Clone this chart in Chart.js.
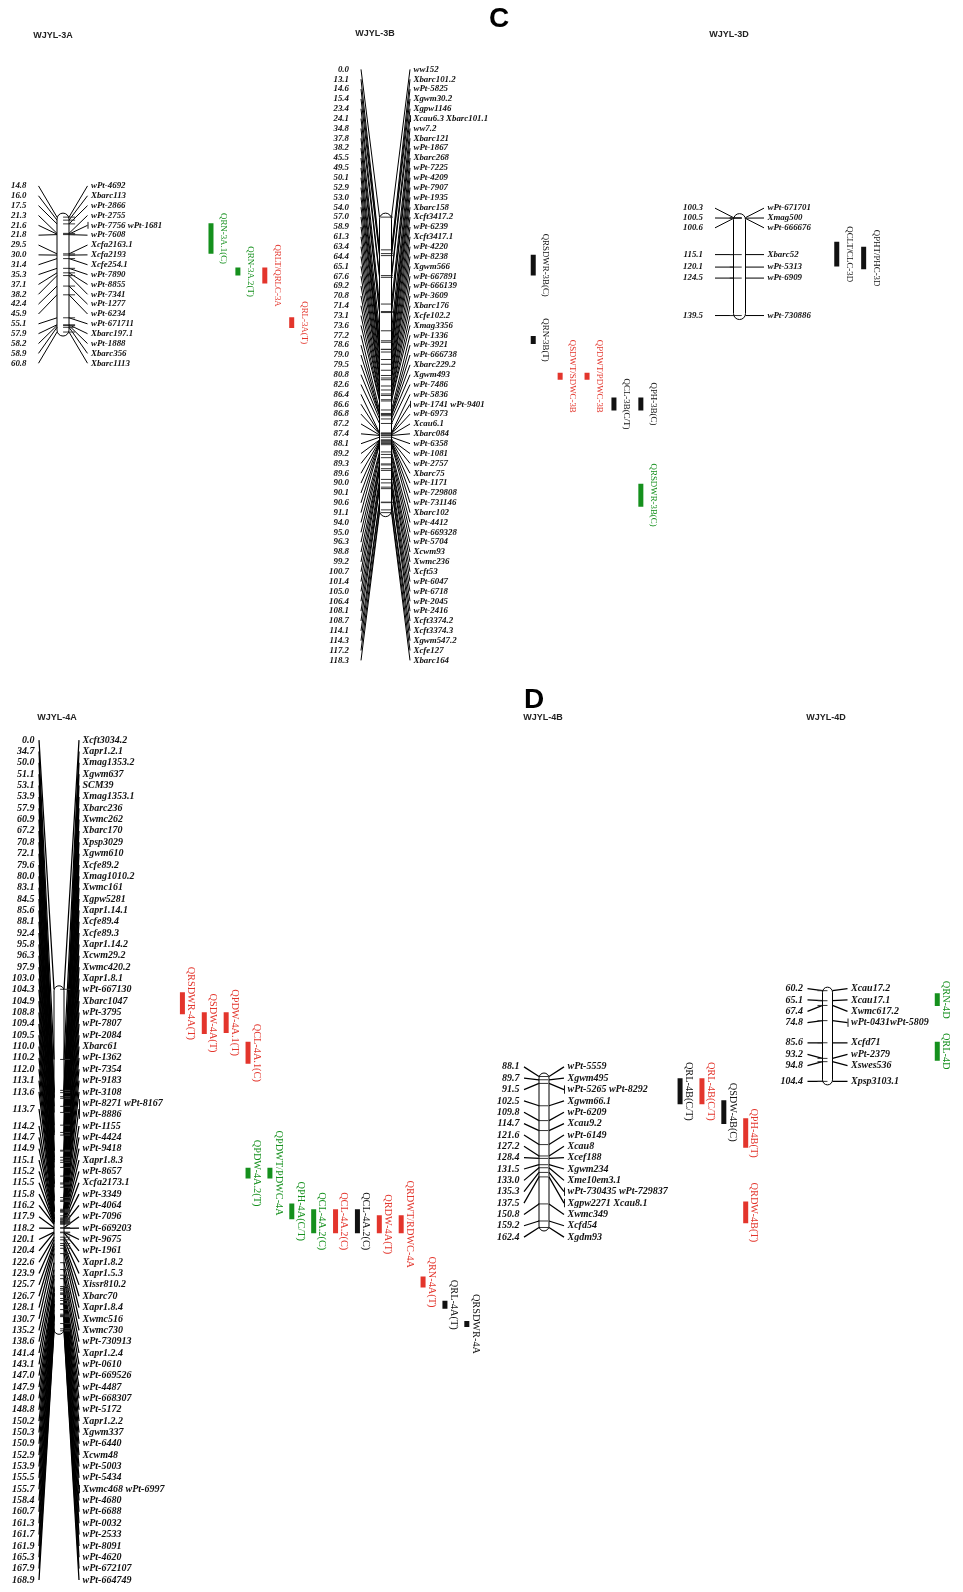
<!DOCTYPE html>
<html>
<head>
<meta charset="utf-8">
<script src="https://cdn.jsdelivr.net/npm/chart.js@4.4.0/dist/chart.umd.min.js"></script>
<style>
  html, body { margin: 0; padding: 0; background: #fff; }
  #wrap { width: 963px; height: 1592px; }
</style>
</head>
<body>
<div id="wrap"><canvas id="map" width="963" height="1592"></canvas></div>
<script>
// ---- marker positions (cM) and names ----
var pos3A = [14.8,16.0,17.5,21.3,21.6,21.8,29.5,30.0,31.4,35.3,37.1,38.2,42.4,45.9,55.1,57.9,58.2,58.9,60.8];
var mk3A = ['wPt-4692','Xbarc113','wPt-2866','wPt-2755','wPt-7756 wPt-1681','wPt-7608','Xcfa2163.1','Xcfa2193','Xcfe254.1','wPt-7890','wPt-8855','wPt-7341','wPt-1277','wPt-6234','wPt-671711','Xbarc197.1','wPt-1888','Xbarc356','Xbarc1113'];

var pos3B = [0.0,13.1,14.6,15.4,23.4,24.1,34.8,37.8,38.2,45.5,49.5,50.1,52.9,53.0,54.0,57.0,58.9,61.3,63.4,64.4,65.1,67.6,69.2,70.8,71.4,73.1,73.6,77.2,78.6,79.0,79.5,80.8,82.6,86.4,86.6,86.8,87.2,87.4,88.1,89.2,89.3,89.6,90.0,90.1,90.6,91.1,94.0,95.0,96.3,98.8,99.2,100.7,101.4,105.0,106.4,108.1,108.7,114.1,114.3,117.2,118.3];
var mk3B = ['ww152','Xbarc101.2','wPt-5825','Xgwm30.2','Xgpw1146','Xcau6.3 Xbarc101.1','ww7.2','Xbarc121','wPt-1867','Xbarc268','wPt-7225','wPt-4209','wPt-7907','wPt-1935','Xbarc158','Xcft3417.2','wPt-6239','Xcft3417.1','wPt-4220','wPt-8238','Xgwm566','wPt-667891','wPt-666139','wPt-3609','Xbarc176','Xcfe102.2','Xmag3356','wPt-1336','wPt-3921','wPt-666738','Xbarc229.2','Xgwm493','wPt-7486','wPt-5836','wPt-1741 wPt-9401','wPt-6973','Xcau6.1','Xbarc084','wPt-6358','wPt-1081','wPt-2757','Xbarc75','wPt-1171','wPt-729808','wPt-731146','Xbarc102','wPt-4412','wPt-669328','wPt-5704','Xcwm93','Xwmc236','Xcft53','wPt-6047','wPt-6718','wPt-2045','wPt-2416','Xcft3374.2','Xcft3374.3','Xgwm547.2','Xcfe127','Xbarc164'];

var pos3D = [100.3,100.5,100.6,115.1,120.1,124.5,139.5];
var mk3D = ['wPt-671701','Xmag500','wPt-666676','Xbarc52','wPt-5313','wPt-6909','wPt-730886'];

var pos4A = [0.0,34.7,50.0,51.1,53.1,53.9,57.9,60.9,67.2,70.8,72.1,79.6,80.0,83.1,84.5,85.6,88.1,92.4,95.8,96.3,97.9,103.0,104.3,104.9,108.8,109.4,109.5,110.0,110.2,112.0,113.1,113.6,113.7,114.2,114.7,114.9,115.1,115.2,115.5,115.8,116.2,117.9,118.2,120.1,120.4,122.6,123.9,125.7,126.7,128.1,130.7,135.2,138.6,141.4,143.1,147.0,147.9,148.0,148.8,150.2,150.3,150.9,152.9,153.9,155.5,155.7,158.4,160.7,161.3,161.7,161.9,165.3,167.9,168.9];
var mk4A = ['Xcft3034.2','Xapr1.2.1','Xmag1353.2','Xgwm637','SCM39','Xmag1353.1','Xbarc236','Xwmc262','Xbarc170','Xpsp3029','Xgwm610','Xcfe89.2','Xmag1010.2','Xwmc161','Xgpw5281','Xapr1.14.1','Xcfe89.4','Xcfe89.3','Xapr1.14.2','Xcwm29.2','Xwmc420.2','Xapr1.8.1','wPt-667130','Xbarc1047','wPt-3795','wPt-7807','wPt-2084','Xbarc61','wPt-1362','wPt-7354','wPt-9183','wPt-3108','wPt-8271 wPt-8167\nwPt-8886','wPt-1155','wPt-4424','wPt-9418','Xapr1.8.3','wPt-8657','Xcfa2173.1','wPt-3349','wPt-4064','wPt-7096','wPt-669203','wPt-9675','wPt-1961','Xapr1.8.2','Xapr1.5.3','Xissr810.2','Xbarc70','Xapr1.8.4','Xwmc516','Xwmc730','wPt-730913','Xapr1.2.4','wPt-0610','wPt-669526','wPt-4487','wPt-668307','wPt-5172','Xapr1.2.2','Xgwm337','wPt-6440','Xcwm48','wPt-5003','wPt-5434','Xwmc468 wPt-6997','wPt-4680','wPt-6688','wPt-0032','wPt-2533','wPt-8091','wPt-4620','wPt-672107','wPt-664749'];

var pos4B = [88.1,89.7,91.5,102.5,109.8,114.7,121.6,127.2,128.4,131.5,133.0,135.3,137.5,150.8,159.2,162.4];
var mk4B = ['wPt-5559','Xgwm495','wPt-5265 wPt-8292','Xgwm66.1','wPt-6209','Xcau9.2','wPt-6149','Xcau8','Xcef188','Xgwm234','Xme10em3.1','wPt-730435 wPt-729837','Xgpw2271 Xcau8.1','Xwmc349','Xcfd54','Xgdm93'];

var pos4D = [60.2,65.1,67.4,74.8,85.6,93.2,94.8,104.4];
var mk4D = ['Xcau17.2','Xcau17.1','Xwmc617.2','wPt-0431wPt-5809','Xcfd71','wPt-2379','Xswes536','Xpsp3103.1'];

// ---- QTL intervals (cM) ----
var qtl3A = ['QRN-3A.1(C)','QRN-3A.2(T)','QRLT/QRLC-3A','QRL-3A(T)'];
var qtl3AFrom = [17.2,35.0,35.0,54.9];
var qtl3ATo = [29.5,38.2,41.4,59.2];

var qtl3B = ['QRSDWR-3B(C)','QRN-3B(T)','QSDWT/SDWC-3B','QPDWT/PDWC-3B','QCL-3B(C/T)','QPH-3B(C)','QRSDWR-3B(C)'];
var qtl3BFrom = [15.1,47.6,62.3,62.3,72.2,72.2,106.7];
var qtl3BTo = [23.4,50.8,65.1,65.1,77.4,77.4,115.9];

var qtl3D = ['QCLT/CLC-3D','QPHT/PHC-3D'];
var qtl3DFrom = [110.0,112.0];
var qtl3DTo = [119.9,121.0];

var qtl4A = ['QRSDWR-4A(T)','QSDW-4A(T)','QPDW-4A.1(T)','QCL-4A.1(C)','QPDW-4A.2(T)','QPDWT/PDWC-4A','QPH-4A(C/T)','QCL-4A.2(C)','QCL-4A.2(C)','QCL-4A.2(C)','QRDW-4A(T)','QRDWT/RDWC-4A','QRN-4A(T)','QRL-4A(T)','QRSDWR-4A'];
var qtl4AFrom = [1.5,11.3,11.3,26.0,88.2,88.2,105.9,108.8,108.8,108.8,111.8,111.8,142.0,154.0,164.0];
var qtl4ATo = [12.3,22.1,21.6,36.8,93.6,93.6,113.7,120.6,120.6,120.6,120.6,120.6,147.5,158.0,167.0];

var qtl4B = ['QRL-4B(C/T)','QRL-4B(C/T)','QSDW-4B(C)','QPH-4B(T)','QRDW-4B(T)'];
var qtl4BFrom = [89.0,89.0,99.8,108.6,149.6];
var qtl4BTo = [101.8,101.8,111.5,123.2,160.3];

var qtl4D = ['QRN-4D','QRL-4D'];
var qtl4DFrom = [61.5,85.1];
var qtl4DTo = [67.7,94.3];

// ---- styles and layout ----
var GREEN = '#15901d', RED = '#e3352c', BLACK = '#111111';
var W = 963, H = 1592;
var SERIF = '"Liberation Serif", "Times New Roman", serif';
var SANS = '"Liberation Sans", Arial, sans-serif';

var panelC = {hw: 6, line: 18.5, vgap: 12, mgap: 3.5, step: 9.85, font: 8.9, qfont: 8.9, qoff: 12.5, colStep: 27.3, ext: 4, lw: 1.0};
var panelD = {hw: 5, line: 15, vgap: 4.5, mgap: 3.5, step: 11.35, font: 10, qfont: 10.3, qoff: 8.5, colStep: 22.2, ext: 3.5, lw: 1.25};

var chroms = [
  {id: '3A', pos: pos3A, mk: mk3A, p: panelC, cx: 63, y0: 212, s: 2.52, qx: 207,
   q: qtl3A, qf: qtl3AFrom, qt: qtl3ATo, qc: [GREEN, GREEN, RED, RED], col: [0,1,2,3]},
  {id: '3B', pos: pos3B, mk: mk3B, p: panelC, cx: 385.5, y0: 212, s: 2.52, qx: 534,
   q: qtl3B, qf: qtl3BFrom, qt: qtl3BTo, qc: [BLACK, BLACK, RED, RED, BLACK, BLACK, GREEN], col: [0,0,1,2,3,4,4]},
  {id: '3D', pos: pos3D, mk: mk3D, p: panelC, cx: 739.5, y0: 212.5, s: 2.52, qx: 842,
   q: qtl3D, qf: qtl3DFrom, qt: qtl3DTo, qc: [BLACK, BLACK], col: [0,1]},
  {id: '4A', pos: pos4A, mk: mk4A, p: panelD, cx: 59, y0: 991, s: 2.04, qx: 178,
   q: qtl4A, qf: qtl4AFrom, qt: qtl4ATo,
   qc: [RED, RED, RED, RED, GREEN, GREEN, GREEN, GREEN, RED, BLACK, RED, RED, RED, BLACK, BLACK],
   col: [0,1,2,3,3,4,5,6,7,8,9,10,11,12,13]},
  {id: '4B', pos: pos4B, mk: mk4B, p: panelD, cx: 544, y0: 1079, s: 2.05, qx: 683,
   q: qtl4B, qf: qtl4BFrom, qt: qtl4BTo, qc: [BLACK, RED, BLACK, RED, RED], col: [0,1,2,3,3]},
  {id: '4D', pos: pos4D, mk: mk4D, p: panelD, cx: 827.5, y0: 992.4, s: 2.07, qx: 944,
   q: qtl4D, qf: qtl4DFrom, qt: qtl4DTo, qc: [GREEN, GREEN], col: [0,0]}
];

var titles = [['WJYL-3A', 53, 36], ['WJYL-3B', 375, 34], ['WJYL-3D', 729, 35],
              ['WJYL-4A', 57, 718], ['WJYL-4B', 543, 718], ['WJYL-4D', 826, 718]];
var panels = [['C', 499, 19], ['D', 534, 700]];

// ---- scales: one hidden y axis per chromosome ----
var scales = {x: {type: 'linear', min: 0, max: W, display: false}};
chroms.forEach(function (c) {
  var min = c.pos[0] - c.y0 / c.s;
  scales['y' + c.id] = {type: 'linear', axis: 'y', reverse: true, display: false, min: min, max: min + H / c.s};
});

// ---- datasets: marker ticks + QTL bars ----
var datasets = [];
chroms.forEach(function (c) {
  datasets.push({
    data: c.pos.map(function (v) { return {x: c.cx, y: v}; }),
    yAxisID: 'y' + c.id,
    pointStyle: 'line', pointRadius: c.p.hw, pointHoverRadius: c.p.hw,
    pointBorderColor: '#333', pointBorderWidth: 1, showLine: false
  });
  c.q.forEach(function (name, i) {
    var x = c.qx + c.col[i] * c.p.colStep;
    datasets.push({
      data: [{x: x, y: c.qf[i]}, {x: x, y: c.qt[i]}],
      yAxisID: 'y' + c.id,
      showLine: true, borderColor: c.qc[i], borderWidth: 5, borderCapStyle: 'butt',
      pointRadius: 0, pointHoverRadius: 0
    });
  });
});

// push overlapping labels apart, each cluster centred between its first and last marker
function spread(ideal, hts) {
  var cl = [];
  ideal.forEach(function (y, i) {
    cl.push({a: i, b: i, top: y - hts[i] / 2, h: hts[i]});
    while (cl.length > 1) {
      var p = cl[cl.length - 2], q = cl[cl.length - 1];
      if (p.top + p.h <= q.top + 0.01) break;
      var a = p.a, b = q.b, tot = 0;
      for (var k = a; k <= b; k++) tot += hts[k];
      var d = tot - hts[a] / 2 - hts[b] / 2;
      var first = (ideal[a] + ideal[b] - d) / 2;
      cl.splice(cl.length - 2, 2, {a: a, b: b, top: first - hts[a] / 2, h: tot});
    }
  });
  var out = [];
  cl.forEach(function (c) {
    var t = c.top;
    for (var k = c.a; k <= c.b; k++) { out[k] = t + hts[k] / 2; t += hts[k]; }
  });
  return out;
}

function bodyPath(ctx, x0, x1, y0, y1, r) {
  ctx.beginPath();
  ctx.moveTo(x0, y0 + r);
  ctx.arc(x0 + r, y0 + r, r, Math.PI, 0);
  ctx.lineTo(x1, y1 - r);
  ctx.arc(x0 + r, y1 - r, r, 0, Math.PI);
  ctx.closePath();
}

function layoutOf(chart, c) {
  var sc = chart.scales['y' + c.id];
  var ideal = c.pos.map(function (v) { return sc.getPixelForValue(v); });
  var hts = c.mk.map(function (m) { return m.split('\n').length * c.p.step; });
  return {sc: sc, ideal: ideal, hts: hts, lab: spread(ideal, hts)};
}

var mapPlugin = {
  id: 'mapDraw',
  beforeDatasetsDraw: function (chart) {
    var ctx = chart.ctx;
    chroms.forEach(function (c) {
      var L = layoutOf(chart, c), p = c.p;
      var l = c.cx - p.hw, r = c.cx + p.hw;
      var top = L.ideal[0] - p.ext, bot = L.ideal[L.ideal.length - 1] + p.ext;
      ctx.save();
      bodyPath(ctx, l, r, top, bot, p.hw);
      ctx.fillStyle = '#fff';
      ctx.fill();
      ctx.strokeStyle = '#000';
      ctx.lineWidth = p.lw;
      L.ideal.forEach(function (y, i) {
        ctx.beginPath();
        ctx.moveTo(l - p.line, L.lab[i]);
        ctx.lineTo(l, y);
        ctx.moveTo(r, y);
        ctx.lineTo(r + p.line, L.lab[i]);
        ctx.stroke();
      });
      ctx.restore();
    });
  },
  afterDatasetsDraw: function (chart) {
    var ctx = chart.ctx;
    chroms.forEach(function (c) {
      var L = layoutOf(chart, c), p = c.p;
      var l = c.cx - p.hw, r = c.cx + p.hw;
      var top = L.ideal[0] - p.ext, bot = L.ideal[L.ideal.length - 1] + p.ext;
      ctx.save();
      bodyPath(ctx, l, r, top, bot, p.hw);
      ctx.strokeStyle = '#000';
      ctx.lineWidth = 1;
      ctx.stroke();

      ctx.fillStyle = '#111';
      ctx.font = 'bold italic ' + p.font + 'px ' + SERIF;
      ctx.textBaseline = 'middle';
      c.mk.forEach(function (name, i) {
        var y = L.lab[i];
        ctx.textAlign = 'right';
        ctx.fillText(c.pos[i].toFixed(1), l - p.line - p.vgap, y);
        ctx.textAlign = 'left';
        var lines = name.split('\n');
        lines.forEach(function (t, j) {
          ctx.fillText(t, r + p.line + p.mgap, y + (j - (lines.length - 1) / 2) * p.step);
        });
        if (/[ \n]|\dwPt/.test(name)) {
          var hh = L.hts[i] / 2 - 1.5;
          ctx.beginPath();
          ctx.moveTo(r + p.line + 0.5, y - hh);
          ctx.lineTo(r + p.line + 0.5, y + hh);
          ctx.lineWidth = 0.9;
          ctx.stroke();
        }
      });

      ctx.font = p.qfont + 'px ' + SERIF;
      ctx.textAlign = 'center';
      c.q.forEach(function (name, i) {
        var x = chart.scales.x.getPixelForValue(c.qx + c.col[i] * p.colStep);
        var y = (L.sc.getPixelForValue(c.qf[i]) + L.sc.getPixelForValue(c.qt[i])) / 2;
        ctx.save();
        ctx.translate(x + p.qoff, y);
        ctx.rotate(Math.PI / 2);
        ctx.fillStyle = c.qc[i];
        ctx.fillText(name, 0, 0);
        ctx.restore();
      });
      ctx.restore();
    });

    ctx.save();
    ctx.fillStyle = '#222';
    ctx.textAlign = 'center';
    ctx.textBaseline = 'middle';
    ctx.font = 'bold 9px ' + SANS;
    titles.forEach(function (t) { ctx.fillText(t[0], t[1], t[2]); });
    ctx.fillStyle = '#000';
    ctx.font = 'bold 28px ' + SANS;
    panels.forEach(function (t) { ctx.fillText(t[0], t[1], t[2]); });
    ctx.restore();
  }
};

new Chart(document.getElementById('map'), {
  type: 'scatter',
  data: {datasets: datasets},
  options: {
    responsive: false,
    animation: false,
    devicePixelRatio: 1,
    events: [],
    layout: {padding: 0},
    scales: scales,
    plugins: {legend: {display: false}, tooltip: {enabled: false}}
  },
  plugins: [mapPlugin]
});
</script>
</body>
</html>
